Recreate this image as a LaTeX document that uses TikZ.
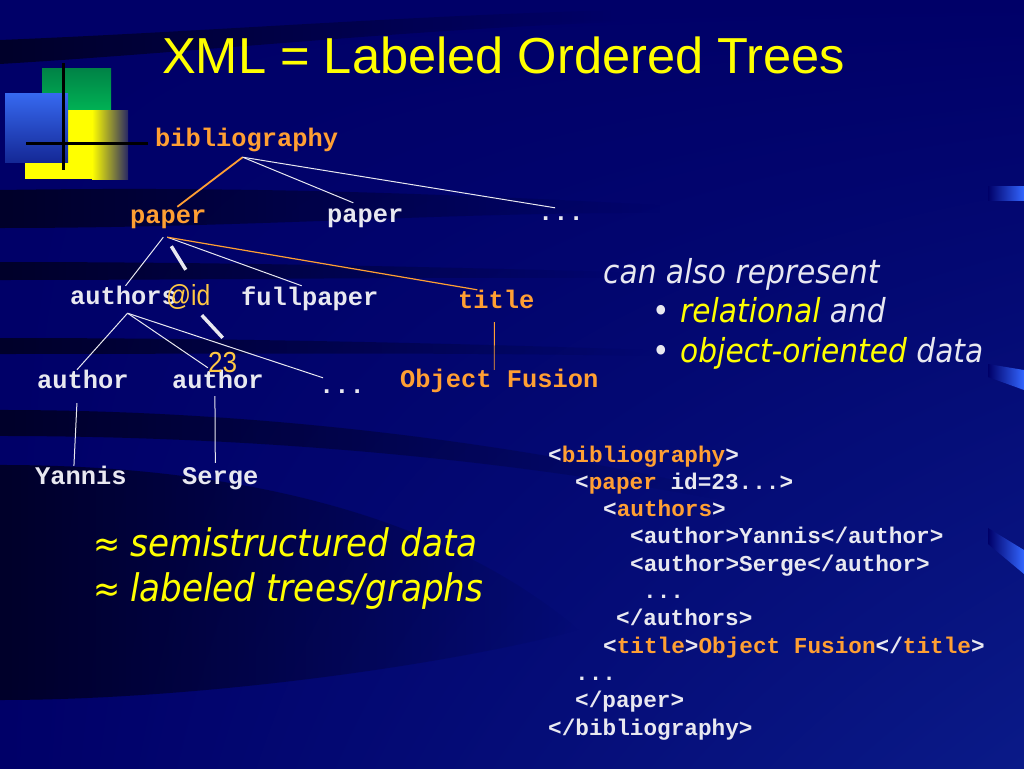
\documentclass[tikz,border=0pt]{standalone}
\usepackage{fontspec}
\usepackage{graphicx}
\setmainfont{Liberation Sans}
\newfontfamily\monofnt{Liberation Mono}
\newfontfamily\tahfnt{DejaVu Sans}[FakeStretch=0.9]
\usetikzlibrary{fadings,shadings}
\definecolor{bgnavy}{HTML}{000068}
\definecolor{bglight}{HTML}{0A1A88}
\definecolor{orng}{HTML}{FF9F33}
\definecolor{wht}{HTML}{E8E8F0}
\definecolor{ylw}{HTML}{FFFF00}
\definecolor{idc}{HTML}{FFC844}
\definecolor{accent}{HTML}{3366FF}
\tikzfading[name=bandfade, left color=transparent!0, middle color=transparent!30, right color=transparent!100]
\newcommand{\og}[1]{\textcolor{orng}{#1}}
\begin{document}
\begin{tikzpicture}[x=1pt,y=-1pt,
  tree/.style={font=\monofnt\bfseries\fontsize{25.4}{28}\selectfont, inner sep=0pt, text height=17pt, text depth=6pt, anchor=base west, text=wht},
  otree/.style={tree, text=orng},
  code/.style={font=\monofnt\bfseries\fontsize{22.7}{27}\selectfont, inner sep=0pt, anchor=base west, text=wht},
  rtext/.style={font=\tahfnt\itshape\fontsize{33}{38}\selectfont, inner sep=0pt, anchor=base west, text=wht},
  btext/.style={font=\tahfnt\itshape\fontsize{38}{44}\selectfont, inner sep=0pt, anchor=base west, text=ylw},
  attr/.style={font=\fontsize{29}{32}\selectfont, inner sep=0pt, text height=21pt, text depth=5pt, anchor=base west, text=idc},
  wedge/.style={draw=wht, line width=1pt},
  oedge/.style={draw=orng, line width=1.2pt},
  band/.style={fill=black, opacity=0.6, path fading=bandfade},
  logoline/.style={draw=black, line width=3pt}
]
\useasboundingbox (0,0) rectangle (1024,768);
% background
\shade[upper left=bgnavy, upper right=bgnavy, lower left=bgnavy, lower right=bglight] (0,0) rectangle (1024,768);
\fill[band] (0,40) .. controls (200,32) and (400,16) .. (620,10) -- (620,22) .. controls (400,30) and (200,52) .. (0,64) -- cycle;
\fill[band] (0,190) .. controls (250,186) and (450,194) .. (660,205) -- (660,213) .. controls (450,212) and (250,228) .. (0,228) -- cycle;
\fill[band] (0,262) .. controls (200,262) and (400,266) .. (620,272) -- (620,278) .. controls (400,277) and (200,280) .. (0,280) -- cycle;
\fill[band] (0,338) .. controls (200,338) and (420,342) .. (650,350) -- (650,356) .. controls (420,352) and (200,354) .. (0,354) -- cycle;
\fill[band] (0,410) .. controls (250,410) and (500,440) .. (720,490) -- (720,500) .. controls (500,458) and (250,436) .. (0,436) -- cycle;
\fill[band, opacity=0.6] (0,465) .. controls (250,465) and (450,520) .. (580,630) .. controls (450,665) and (200,700) .. (0,700) -- cycle;
% right accents
\shade[left color=bgnavy, right color=accent] (988,186) rectangle (1024,200);
\shade[left color=bgnavy, right color=accent] (988,364) -- (1024,370) -- (1024,390) -- (988,377) -- cycle;
\shade[left color=bgnavy, right color=accent] (988,528) -- (1024,550) -- (1024,574) -- (988,544) -- cycle;
% logo
\shade[top color={rgb,255:red,0;green,130;blue,70}, bottom color={rgb,255:red,0;green,180;blue,85}] (42,68) rectangle (111,112);
\fill[ylw] (25,110) rectangle (92,179);
\shade[left color=ylw, right color={rgb,255:red,40;green,40;blue,100}] (92,110) rectangle (128,179);
\shade[shading angle=-45, top color={rgb,255:red,55;green,105;blue,240}, bottom color={rgb,255:red,20;green,40;blue,150}] (5,93) rectangle (68,162);
\draw[logoline] (63,63) -- (63,170);
\draw[logoline] (26,143) -- (148,143);
% title
\node[anchor=base west, inner sep=0pt, font=\fontsize{50.6}{58}\selectfont, text=ylw] (title) at (162,73) {XML = Labeled Ordered Trees};
% tree nodes
\node[otree] (bib) at (155,146) {bibliography};
\node[otree] (paperA) at (130,223) {paper};
\node[tree] (paperB) at (327,222) {paper};
\node[tree] (dotsA) at (538,220) {...};
\node[tree] (authors) at (70,304) {authors};
\node[tree] (fullpaper) at (241,305) {fullpaper};
\node[otree] (titleN) at (458,308) {title};
\node[tree] (authorA) at (37,388) {author};
\node[tree] (authorB) at (172,388) {author};
\node[tree] (dotsB) at (319,393) {...};
\node[otree] (objfus) at (400,387) {Object Fusion};
\node[tree] (yannis) at (35,484) {Yannis};
\node[tree] (serge) at (182,484) {Serge};
\node[attr] (idlbl) at (166,305) {\scalebox{0.85}[1]{@id}};
\node[attr] (n23) at (208,372) {\scalebox{0.9}[1]{23}};
% tree edges
\draw[oedge, line width=1.8pt] ([shift={(-4,5)}]bib.south) -- ([shift={(9,1)}]paperA.north);
\draw[wedge] ([shift={(-4,5)}]bib.south) -- ([shift={(-12,-2)}]paperB.north);
\draw[wedge] ([shift={(-4,5)}]bib.south) -- ([shift={(-6,5)}]dotsA.north);
\draw[wedge] ([shift={(-5,8)}]paperA.south) -- ([shift={(2,-1)}]authors.north);
\draw[wedge] ([shift={(-1,8)}]paperA.south) -- ([shift={(-8,-2)}]fullpaper.north);
\draw[oedge] ([shift={(-1,8)}]paperA.south) -- ([shift={(-19,-1)}]titleN.north);
\draw[draw=wht, line width=3.5pt] ([shift={(3,17)}]paperA.south) -- ([shift={(-2.5,-14)}]idlbl.north);
\draw[draw=wht, line width=3.5pt] ([shift={(13.5,5)}]idlbl.south) -- ([shift={(0,-13)}]n23.north);
\draw[wedge] ([shift={(4,3)}]authors.south) -- ([shift={(-6,-1)}]authorA.north);
\draw[wedge] ([shift={(4,3)}]authors.south) -- ([shift={(-10,-3)}]authorB.north);
\draw[wedge] ([shift={(4,3)}]authors.south) -- ([shift={(-19,2)}]dotsB.north);
\draw[oedge, line width=0.9pt] ([shift={(-2,8)}]titleN.south) -- ([shift={(-5,0)}]objfus.north);
\draw[wedge] ([shift={(-6,9)}]authorA.south) -- ([shift={(-7,-1)}]yannis.north);
\draw[wedge] ([shift={(-3,2)}]authorB.south) -- ([shift={(-5,-4)}]serge.north);
% right text
\node[rtext] (canalso) at (603,283) {can also represent};
\node[rtext] (bul1) at (652,322) {\upshape •};
\node[rtext] (rel) at (680,322) {\textcolor{ylw}{relational} and};
\node[rtext] (bul2) at (652,362) {\upshape •};
\node[rtext] (oo) at (680,362) {\textcolor{ylw}{object-oriented} data};
% bottom-left text
\node[btext] (approxA) at (93,556) {\upshape\fontsize{36}{40}\selectfont ≈};
\node[btext] (semi) at (130,556) {semistructured data};
\node[btext] (approxB) at (93,601) {\upshape\fontsize{36}{40}\selectfont ≈};
\node[btext] (labeled) at (130,601) {labeled trees/graphs};
% code block
\node[code] (c1) at (548,462) {<\og{bibliography}>};
\node[code] (c2) at (575,489.3) {<\og{paper} id=23...>};
\node[code] (c3) at (603,516.6) {<\og{authors}>};
\node[code] (c4) at (630,543.9) {<author>Yannis</author>};
\node[code] (c5) at (630,571.2) {<author>Serge</author>};
\node[code] (c6) at (643,598.5) {...};
\node[code] (c7) at (616,625.8) {</authors>};
\node[code] (c8) at (603,653.1) {<\og{title}>\og{Object Fusion}</\og{title}>};
\node[code] (c9) at (575,680.4) {...};
\node[code] (c10) at (575,707.7) {</paper>};
\node[code] (c11) at (548,735) {</bibliography>};
\end{tikzpicture}
\end{document}
